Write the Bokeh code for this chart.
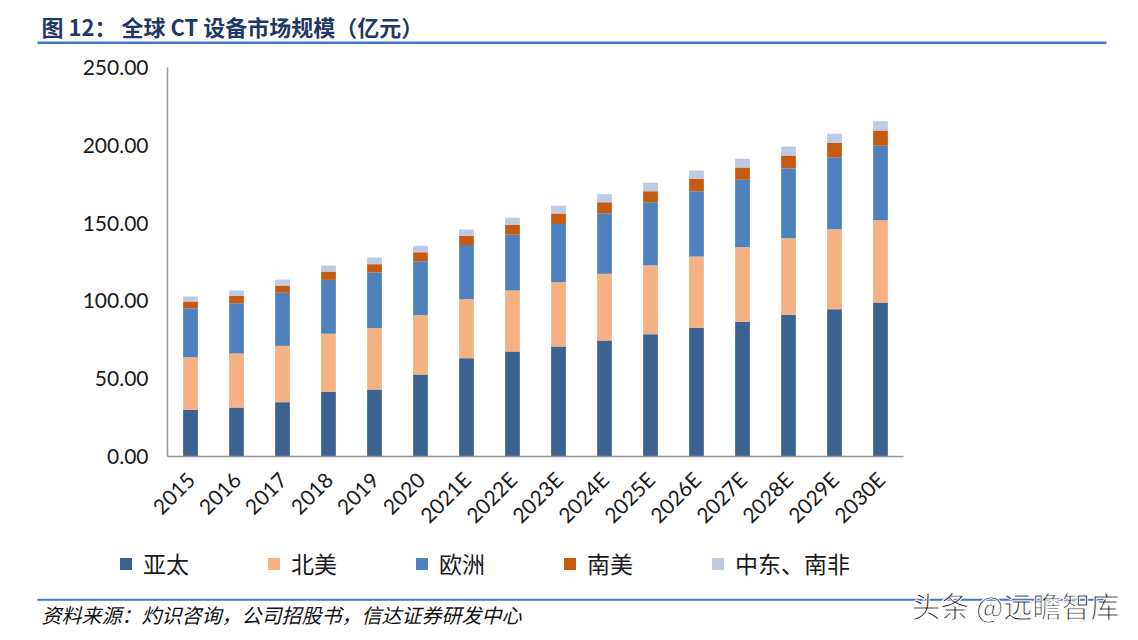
import math
from bokeh.plotting import figure
from bokeh.models import (ColumnDataSource, NumeralTickFormatter, Label, BoxAnnotation,
                          Legend, LegendItem, FixedTicker, LinearAxis, Range1d)
from bokeh.embed import file_html
from bokeh.resources import INLINE

# ---------------- data ----------------
years = ["2015", "2016", "2017", "2018", "2019", "2020", "2021E", "2022E",
         "2023E", "2024E", "2025E", "2026E", "2027E", "2028E", "2029E", "2030E"]
asia_pacific = [30.0, 31.5, 34.9, 41.6, 43.1, 52.7, 63.2, 67.5, 70.7, 74.6, 78.6, 82.7, 86.6, 91.1, 94.7, 99.0]
north_america = [33.8, 34.7, 36.2, 37.3, 39.4, 38.1, 37.9, 39.2, 41.3, 42.8, 44.2, 45.8, 47.9, 49.2, 51.4, 52.9]
europe = [31.5, 32.3, 34.1, 34.6, 35.8, 34.7, 34.9, 35.8, 37.5, 39.0, 40.6, 42.0, 43.3, 44.8, 46.3, 47.8]
south_america = [4.3, 4.8, 4.7, 5.4, 5.3, 5.8, 5.8, 6.2, 6.7, 7.0, 7.1, 8.0, 7.9, 8.3, 9.0, 9.8]
mideast_safrica = [3.2, 3.4, 3.8, 3.8, 4.3, 4.1, 4.1, 4.7, 4.9, 5.2, 5.4, 5.3, 5.6, 5.8, 6.0, 6.0]
series_names = ["亚太", "北美", "欧洲", "南美", "中东、南非"]
y_ticks = [0, 50, 100, 150, 200, 250]

title_text = "图 12： 全球 CT 设备市场规模（亿元）"
source_text = "资料来源：灼识咨询，公司招股书，信达证券研发中心"
watermark_text = "头条 @远瞻智库"

colors = ["#3B6291", "#F4B183", "#4F81BD", "#C55A11", "#BCCAE3"]
RULE = "#4472C4"
CJK = "Noto Sans CJK SC"

# ---------------- layout (page pixels) ----------------
W, H = 1130, 632
CL, CT, CR, CB = 167, 67, 903, 456      # chart area: left/top/right/bottom
Y_MAX = 250
n = len(years)
px_per_cat = (CR - CL) / n
px_per_unit = (CB - CT) / Y_MAX

# the plot frame covers the whole canvas; ranges are chosen so that the chart
# area lands on CL..CR / CT..CB
x_rng = Range1d(-0.5 - CL / px_per_cat, n - 0.5 + (W - CR) / px_per_cat)
y_rng = Range1d(-(H - CB) / px_per_unit, Y_MAX + CT / px_per_unit)

p = figure(width=W, height=H, x_range=x_rng, y_range=y_rng,
           x_axis_type=None, y_axis_type=None,
           output_backend="svg", toolbar_location=None,
           min_border=0, min_border_left=0, min_border_right=0,
           min_border_top=0, min_border_bottom=0)
p.outline_line_color = None
p.xgrid.visible = False
p.ygrid.visible = False
p.background_fill_color = "white"
p.border_fill_color = "white"

keys = ["ap", "na", "eu", "sa", "me"]
src = ColumnDataSource(dict(xi=list(range(n)), year=years, ap=asia_pacific, na=north_america,
                            eu=europe, sa=south_america, me=mideast_safrica))
rs = p.vbar_stack(keys, x="xi", width=0.32, color=colors, line_color=None, source=src)

# axes pinned to the chart corner
yax = LinearAxis(fixed_location=-0.5, bounds=(0, Y_MAX),
                 ticker=FixedTicker(ticks=y_ticks),
                 formatter=NumeralTickFormatter(format="0.00"))
xax = LinearAxis(fixed_location=0, bounds=(-0.5, n - 0.5),
                 ticker=FixedTicker(ticks=list(range(n))),
                 major_label_overrides={i: y for i, y in enumerate(years)})
for ax in (xax, yax):
    ax.axis_line_color = "#969696"
    ax.axis_line_width = 1.5
    ax.major_tick_line_color = None
    ax.minor_tick_line_color = None
    ax.major_label_text_color = "#1a1a1a"
    ax.major_label_text_font = "Lato"
yax.major_label_text_font_size = "21px"
yax.major_label_standoff = 13
xax.major_label_orientation = math.pi / 4
xax.major_label_text_font_size = "21px"
xax.major_label_standoff = 13
p.add_layout(yax, "left")
p.add_layout(xax, "below")

# legend
legend = Legend(items=[LegendItem(label=nm, renderers=[r]) for nm, r in zip(series_names, rs)],
                orientation="horizontal", location=(118, H - 566 - 14),
                glyph_width=15, glyph_height=15, label_standoff=10, spacing=77,
                label_text_font=CJK, label_text_font_size="23px",
                label_text_color="#1a1a1a",
                padding=0, margin=0, border_line_color=None, background_fill_alpha=0)
p.add_layout(legend)

LBL = dict(x_units="screen", y_units="screen", text_baseline="middle", text_align="left")
BOX = dict(left_units="screen", right_units="screen", top_units="screen",
           bottom_units="screen", fill_alpha=1, line_color=None)

p.add_layout(Label(x=41, y=H - 25, text=title_text, text_font=CJK, text_font_style="bold",
                   text_font_size="22px", text_color="#1F3864", **LBL))
p.add_layout(BoxAnnotation(left=37, right=1106, top=H - 41, bottom=H - 43.5,
                           fill_color=RULE, **BOX))
p.add_layout(BoxAnnotation(left=37, right=1106, top=H - 598.3, bottom=H - 600.3,
                           fill_color=RULE, **BOX))
p.add_layout(Label(x=41, y=H - 614, text=source_text, text_font=CJK,
                   text_font_style="italic", text_font_size="20px", text_color="#111111", **LBL))
p.add_layout(Label(x=911, y=H - 604, text=watermark_text, text_font=CJK,
                   text_font_size="29px", text_color="#1a1a1a", text_outline_color="white", **LBL))

open("out.html", "w").write(file_html(p, INLINE, title="CT market"))
